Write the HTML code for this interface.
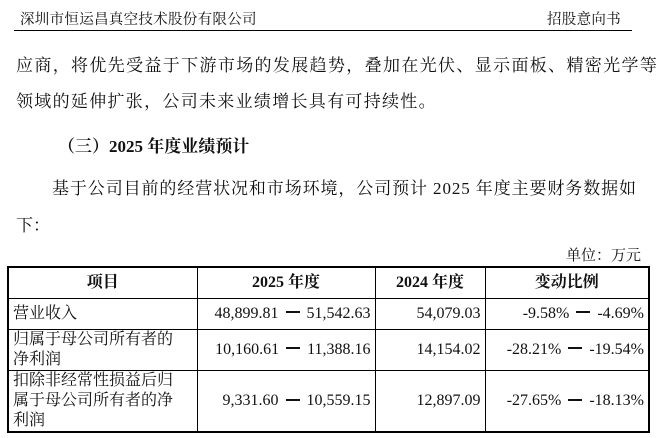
<!DOCTYPE html>
<html><head><meta charset="utf-8"><style>
body{margin:0;width:666px;height:438px;background:#fff;overflow:hidden;position:relative;font-family:"Liberation Serif","Noto Serif CJK SC",serif;color:#111}
.a{position:absolute;white-space:nowrap}
table{position:absolute;left:7px;top:266px;border-collapse:collapse;border:2px solid #000;font-size:16px;table-layout:fixed;width:643px}
td{border:1px solid #000;padding:0 4px;line-height:20px;white-space:nowrap;overflow:hidden}
td.c{text-align:center}td.r{text-align:right}
.d{display:inline-block;width:14px;height:2px;background:#111;vertical-align:middle;margin:0 7px 3px}
</style></head><body>
<div class="a" style="left:20px;top:8px;font-size:14.5px;letter-spacing:0.3px">深圳市恒运昌真空技术股份有限公司</div>
<div class="a" style="left:547px;top:8px;font-size:14.5px;letter-spacing:0.3px">招股意向书</div>
<div class="a" style="left:14px;top:30px;width:618px;height:1px;background:#000"></div>
<div class="a" style="left:16px;top:51px;font-size:17px;letter-spacing:1.35px">应商，将优先受益于下游市场的发展趋势，叠加在光伏、显示面板、精密光学等</div>
<div class="a" style="left:16px;top:87px;font-size:17px;letter-spacing:1.3px">领域的延伸扩张，公司未来业绩增长具有可持续性。</div>
<div class="a" style="left:58px;top:132px;font-size:17px;font-weight:bold">（三）2025 年度业绩预计</div>
<div class="a" style="left:52px;top:174px;font-size:17px;letter-spacing:0.9px">基于公司目前的经营状况和市场环境，公司预计 2025 年度主要财务数据如</div>
<div class="a" style="left:16px;top:211px;font-size:17px">下：</div>
<div class="a" style="left:566px;top:244px;font-size:15px">单位：万元</div>
<table>
<colgroup><col style="width:189px"><col style="width:178px"><col style="width:110px"><col style="width:164px"></colgroup>
<tr style="height:31px;font-weight:bold"><td class="c">项目</td><td class="c">2025 年度</td><td class="c">2024 年度</td><td class="c">变动比例</td></tr>
<tr style="height:31px"><td>营业收入</td><td class="r">48,899.81<span class="d"></span>51,542.63</td><td class="r">54,079.03</td><td class="r">-9.58%<span class="d"></span>-4.69%</td></tr>
<tr style="height:41px"><td>归属于母公司所有者的<br>净利润</td><td class="r">10,160.61<span class="d"></span>11,388.16</td><td class="r">14,154.02</td><td class="r">-28.21%<span class="d"></span>-19.54%</td></tr>
<tr style="height:62px"><td>扣除非经常性损益后归<br>属于母公司所有者的净<br>利润</td><td class="r">9,331.60<span class="d"></span>10,559.15</td><td class="r">12,897.09</td><td class="r">-27.65%<span class="d"></span>-18.13%</td></tr>
</table>
</body></html>
